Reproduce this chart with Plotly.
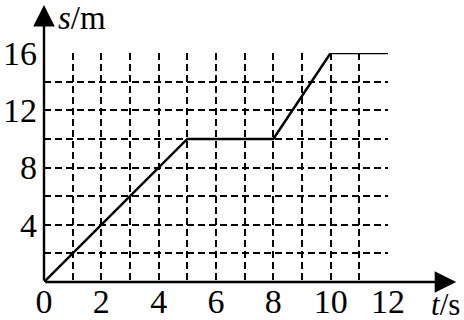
import plotly.graph_objects as go

# data
t_vals = [0, 5, 8, 10, 12]
s_vals = [0, 10, 10, 16, 16]
x_ticks = [0, 2, 4, 6, 8, 10, 12]
y_ticks = [4, 8, 12, 16]
x_grid = list(range(1, 13))
y_grid = [2, 4, 6, 8, 10, 12, 14, 16]

FONT = "Liberation Serif"

W, H = 464, 320
L, R, T, B = 43.5, 76.3, 53, 38
PW, PH = W - L - R, H - T - B


def px(xp):
    return (xp - L) / PW


def py(yp):
    return (H - B - yp) / PH


fig = go.Figure()
fig.add_trace(go.Scatter(x=t_vals, y=s_vals, mode="lines",
                         line=dict(color="black", width=2.5),
                         cliponaxis=False, showlegend=False, hoverinfo="skip"))

# axis lines with arrows (extend beyond the plot area)
X_TIP, Y_TIP = 456, 5
fig.add_annotation(x=px(X_TIP), y=0, ax=-(X_TIP - L), ay=0, xref="paper", yref="paper",
                   axref="pixel", ayref="pixel",
                   showarrow=True, arrowhead=2, arrowsize=1.8, arrowwidth=2.4,
                   arrowcolor="black", text="")
fig.add_annotation(x=0, y=py(Y_TIP), ax=0, ay=(H - B - Y_TIP), xref="paper", yref="paper",
                   axref="pixel", ayref="pixel",
                   showarrow=True, arrowhead=2, arrowsize=1.8, arrowwidth=2.4,
                   arrowcolor="black", text="")

# axis titles
fig.add_annotation(x=px(56), y=py(18), xref="paper", yref="paper", text="<i>s</i>/m",
                   showarrow=False, xanchor="left", yanchor="middle",
                   font=dict(family=FONT, size=33, color="black"))
fig.add_annotation(x=px(462), y=py(304), xref="paper", yref="paper", text="<i>t</i>/s",
                   showarrow=False, xanchor="right", yanchor="middle",
                   font=dict(family=FONT, size=31, color="black"))

eps = 0.002
fig.update_layout(
    width=W, height=H,
    margin=dict(l=L, r=R, t=T, b=B, pad=0, autoexpand=False),
    paper_bgcolor="white", plot_bgcolor="white",
    showlegend=False,
    xaxis=dict(range=[-eps, 12 + eps], tickvals=x_ticks, ticktext=[str(v) for v in x_ticks],
               showgrid=False, zeroline=False, showline=False, ticks="",
               ticklabelstandoff=-4, automargin=False,
               tickfont=dict(family=FONT, size=34, color="black"),
               minor=dict(tickvals=x_grid, showgrid=True, griddash="7px,4px",
                          gridcolor="black", gridwidth=1.5, ticks=""),
               fixedrange=True),
    yaxis=dict(range=[-eps, 16 + eps], tickvals=y_ticks, ticktext=[str(v) for v in y_ticks],
               showgrid=False, zeroline=False, showline=False, ticks="",
               ticklabelstandoff=6, automargin=False,
               tickfont=dict(family=FONT, size=34, color="black"),
               minor=dict(tickvals=y_grid, showgrid=True, griddash="7px,4px",
                          gridcolor="black", gridwidth=1.5, ticks=""),
               fixedrange=True),
)

fig.write_html("out.html")
